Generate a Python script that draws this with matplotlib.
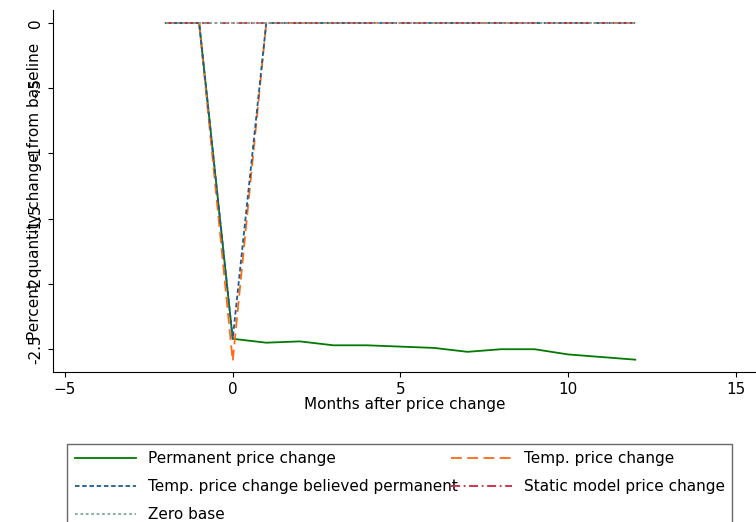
import matplotlib.pyplot as plt

months = list(range(-2, 13))
permanent = [0, 0, -2.42, -2.45, -2.44, -2.47, -2.47, -2.48, -2.49, -2.52, -2.50, -2.50, -2.54, -2.56, -2.58]
temporary = [0, 0, -2.59, 0, 0, 0, 0, 0, 0, 0, 0, 0, 0, 0, 0]
believed = [0, 0, -2.42, 0, 0, 0, 0, 0, 0, 0, 0, 0, 0, 0, 0]
static = [0] * len(months)
zero = [0] * len(months)

fig = plt.figure(figsize=(7.56, 5.22), dpi=100)
ax = fig.add_axes([0.070, 0.287, 0.93, 0.694])

l1, = ax.plot(months, permanent, color='#007a00', lw=1.3, label='Permanent price change')
l2, = ax.plot(months, temporary, color='#ff6a13', lw=1.3, dashes=(6, 3), label='Temp. price change')
l3, = ax.plot(months, believed, color='#1f5c8c', lw=1.3, dashes=(2.5, 1.5), label='Temp. price change believed permanent')
l4, = ax.plot(months, static, color='#c8283c', lw=1.3, dashes=(5, 2, 1, 2), label='Static model price change')
l5, = ax.plot(months, zero, color='#7fa89a', lw=1.3, dashes=(1.5, 1.5), label='Zero base')

ax.set_xlim(-5.36, 15.6)
ax.set_ylim(-2.676, 0.1)
ax.set_xticks([-5, 0, 5, 10, 15])
ax.set_yticks([0, -0.5, -1, -1.5, -2, -2.5])
ax.set_yticklabels(['0', '-.5', '-1', '-1.5', '-2', '-2.5'], rotation=90, va='center')
ax.tick_params(labelsize=11)
ax.set_xlabel('Months after price change', fontsize=11, labelpad=0)
ax.set_ylabel('Percent quantity change from baseline', fontsize=11, labelpad=-10)
for s in ['top', 'right']:
    ax.spines[s].set_visible(False)

handles = [l1, l3, l5, l2, l4]
fig.legend(handles, [h.get_label() for h in handles], loc='lower left',
           bbox_to_anchor=(0.079, -0.03, 0.90, 0.193), mode='expand', ncol=2, fontsize=11,
           frameon=True, fancybox=False, edgecolor='#444444', handlelength=4,
           borderpad=0.5, labelspacing=0.85, columnspacing=0.5)

fig.savefig('out.png', dpi=100)
